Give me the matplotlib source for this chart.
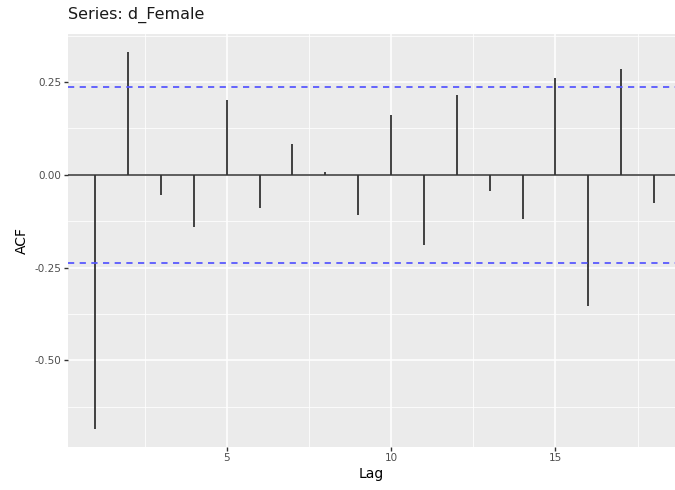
import matplotlib
matplotlib.use("Agg")
import matplotlib.pyplot as plt
import numpy as np

lags = list(range(1, 19))
acf = [-0.684, 0.330, -0.055, -0.141, 0.201, -0.089, 0.082, 0.008, -0.108,
       0.161, -0.189, 0.215, -0.045, -0.120, 0.260, -0.355, 0.285, -0.076]
ci = 0.237
title = "Series: d_Female"
xticks = [5, 10, 15]
yticks = [-0.50, -0.25, 0.00, 0.25]
yticklabels = ["-0.50", "-0.25", "0.00", "0.25"]

W, H = 675, 490
fig = plt.figure(figsize=(W / 100, H / 100), dpi=100)
ax = fig.add_axes([68 / W, (H - 446.7) / H, (W - 68) / W, (446.7 - 34) / H])
ax.set_facecolor("#EBEBEB")
for s in ax.spines.values():
    s.set_visible(False)

ax.set_xlim(0.169, 18.64)
ax.set_ylim(-0.733, 0.3795)

ax.set_xticks(xticks)
ax.set_xticks([2.5, 7.5, 12.5, 17.5], minor=True)
ax.set_yticks(yticks)
ax.set_yticklabels(yticklabels)
ax.set_yticks([-0.625, -0.375, -0.125, 0.125, 0.375], minor=True)
ax.grid(which="major", color="white", linewidth=1.1)
ax.grid(which="minor", color="white", linewidth=0.55)
ax.set_axisbelow(True)
ax.tick_params(which="major", length=2.7, width=1.0, color="#333333",
               labelsize=7.5, labelcolor="#4D4D4D", pad=2)
ax.tick_params(which="minor", length=0)

ax.axhline(0, color="#333333", linewidth=1.1, zorder=2)
ax.vlines(lags, 0, acf, color="#333333", linewidth=1.3, zorder=3)
for c in (ci, -ci):
    ax.axhline(c, color="#5555FF", linewidth=1.4, linestyle=(0, (3.2, 2.8)), zorder=4, alpha=0.9)

ax.set_xlabel("Lag", fontsize=10, labelpad=3)
ax.set_ylabel("ACF", fontsize=10, labelpad=4)
fig.text(68 / W, 1 - 15 / H, title, fontsize=11.5, ha="left", va="center", color="#1A1A1A")

fig.savefig("out.png", dpi=100)
